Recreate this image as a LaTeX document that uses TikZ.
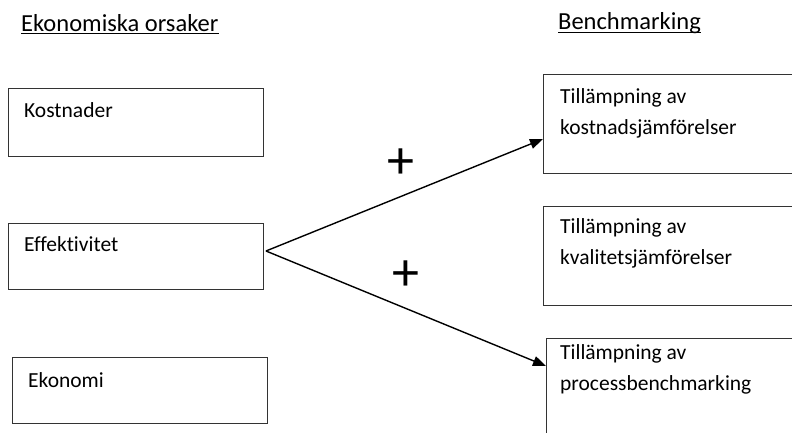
\documentclass[tikz,border=0pt]{standalone}
\usepackage{fontspec}
\setmainfont{Carlito}[Ligatures=NoCommon]
\usetikzlibrary{arrows.meta}

\tikzset{
  box/.style={draw=black!80, line width=1.2bp, inner sep=0pt, anchor=north west},
  boxtext/.style={inner sep=0pt, anchor=base west, align=left,
    font=\fontsize{21.5bp}{31bp}\selectfont},
  header/.style={inner sep=0pt, anchor=base west, font=\fontsize{24.5bp}{29bp}\selectfont},
  uline/.style={line width=1.2bp, black},
  link/.style={line width=1.4bp, black, -{Triangle[length=13bp,width=10bp]}},
  sign/.style={inner sep=0pt, font=\fontsize{54bp}{58bp}\selectfont},
}

\begin{document}
\begin{tikzpicture}[x=1bp, y=-1bp]
  \useasboundingbox (0,0) rectangle (792,433);
  \clip (0,0) rectangle (792,433);

  % column headings
  \node[header] (hleft) at (21,31.5) {Ekonomiska orsaker};
  \node[header] (hright) at (558,30) {Benchmarking};
  \draw[uline] ([yshift=-2bp]hleft.base west) -- ([yshift=-2bp]hleft.base east);
  \draw[uline] ([yshift=-2.5bp]hright.base west) -- ([yshift=-2.5bp]hright.base east);

  % economic causes
  \node[box, minimum width=255bp, minimum height=68bp] (kost) at (8,88) {};
  \node[box, minimum width=255bp, minimum height=66bp] (eff) at (8,223) {};
  \node[box, minimum width=255bp, minimum height=66bp] (ekon) at (12,357) {};
  \node[boxtext] (kostT) at ([shift={(16bp,-30bp)}]kost.north west) {Kostnader};
  \node[boxtext] (effT) at ([shift={(16bp,-29bp)}]eff.north west) {Effektivitet};
  \node[boxtext] (ekonT) at ([shift={(16bp,-30bp)}]ekon.north west) {Ekonomi};

  % benchmarking forms (two-line texts are placed by their last baseline)
  \node[box, minimum width=257bp, minimum height=99bp] (bkost) at (543,74) {};
  \node[box, minimum width=257bp, minimum height=99bp] (bkval) at (543,206) {};
  \node[box, minimum width=254bp, minimum height=107bp] (bproc) at (546,338) {};
  \node[boxtext] (bkostT) at ([shift={(17bp,-61bp)}]bkost.north west)
    {Tillämpning av\\kostnadsjämförelser};
  \node[boxtext] (bkvalT) at ([shift={(17bp,-59bp)}]bkval.north west)
    {Tillämpning av\\kvalitetsjämförelser};
  \node[boxtext] (bprocT) at ([shift={(14bp,-52bp)}]bproc.north west)
    {Tillämpning av\\processbenchmarking};

  % influences
  \coordinate (src) at (266,251);
  \draw[link] (src) -- ([yshift=-65bp]bkost.north west);
  \draw[link] (src) -- ([yshift=-28bp]bproc.north west);
  \node[sign] (p1) at (401,164) {+};
  \node[sign] (p2) at (406,276) {+};
\end{tikzpicture}
\end{document}
